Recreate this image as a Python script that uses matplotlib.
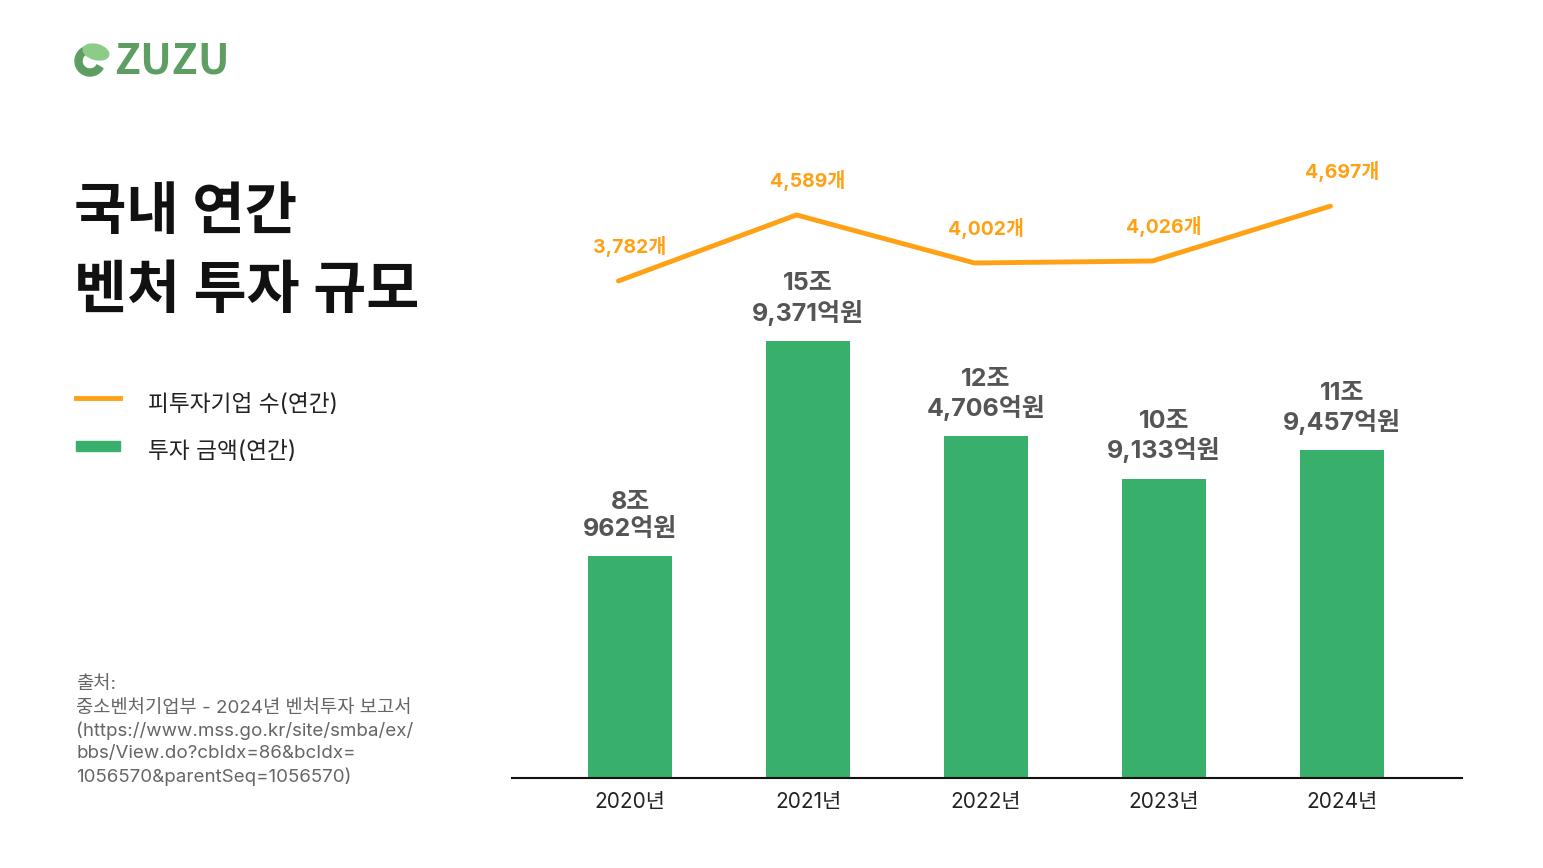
import matplotlib.pyplot as plt
from matplotlib.patches import Circle, Ellipse, Rectangle, Wedge
from matplotlib.lines import Line2D

FONTS = ['Inter', 'Noto Sans CJK KR', 'DejaVu Sans']
plt.rcParams['font.family'] = FONTS

# data
years = ['2020년', '2021년', '2022년', '2023년', '2024년']
invest = [80962, 159371, 124706, 109133, 119457]  # 억원
invest_labels = ['8조\n962억원', '15조\n9,371억원', '12조\n4,706억원', '10조\n9,133억원', '11조\n9,457억원']
companies = [3782, 4589, 4002, 4026, 4697]
company_labels = ['3,782개', '4,589개', '4,002개', '4,026개', '4,697개']
source_lines = ['출처:', '중소벤처기업부 - 2024년 벤처투자 보고서',
                '(https://www.mss.go.kr/site/smba/ex/',
                'bbs/View.do?cbIdx=86&bcIdx=',
                '1056570&parentSeq=1056570)']

GREEN = '#38B06B'
ORANGE = '#FFA114'
W, H = 1543, 868


def px(x, y):
    return x / W, 1 - y / H


fig = plt.figure(figsize=(W / 100, H / 100), dpi=100)

ax = fig.add_axes([512 / W, (H - 778) / H, (1462 - 512) / W, (778 - 150) / H])
xs = list(range(len(years)))
ax.bar(xs, invest, width=0.47, color=GREEN, zorder=2)
ax.set_xlim(-0.663, 4.674)
ax.set_ylim(0, 229000)
for s in ['top', 'right', 'left']:
    ax.spines[s].set_visible(False)
ax.spines['bottom'].set_linewidth(1.5)
ax.spines['bottom'].set_color('#111111')
ax.set_yticks([])
ax.set_xticks(xs)
ax.set_xticklabels(years, fontsize=15, color='#222222')
ax.tick_params(axis='x', length=0, pad=10)

for x, v, lab in zip(xs, invest, invest_labels):
    ax.annotate(lab, (x, v), xytext=(0, 11), textcoords='offset points',
                ha='center', va='bottom', fontsize=18, fontweight='bold',
                color='#555555', linespacing=1.2)

ax2 = ax.twinx()
ax2.set_ylim(-2294, 5383)
ax2.axis('off')
shift = -0.065
ax2.plot([x + shift for x in xs], companies, color=ORANGE, lw=3.5,
         solid_capstyle='round', solid_joinstyle='miter', zorder=3)
for x, v, lab in zip(xs, companies, company_labels):
    ax2.annotate(lab, (x, v), xytext=(0, 25), textcoords='offset points',
                 ha='center', va='center', fontsize=14, fontweight='bold',
                 color=ORANGE)

# title
fig.text(*px(74, 214), '국내 연간', fontsize=41, fontweight='bold',
         ha='left', va='center', color='#111111')
fig.text(*px(74, 293), '벤처 투자 규모', fontsize=41.5, fontweight='bold',
         ha='left', va='center', color='#111111')

# legend
fig.add_artist(Line2D([76 / W, 120 / W], [1 - 398 / H, 1 - 398 / H],
                      color=ORANGE, lw=3.5, transform=fig.transFigure))
fig.add_artist(Rectangle(px(76, 451), 44 / W, 10 / H, color=GREEN,
                         transform=fig.transFigure))
fig.text(*px(148, 405), '피투자기업 수(연간)', fontsize=16.3,
         ha='left', va='center', color='#222222')
fig.text(*px(148, 452), '투자 금액(연간)', fontsize=16.3,
         ha='left', va='center', color='#222222')

# source
for i, line in enumerate(source_lines):
    fig.text(*px(76, 685 + 23 * i), line, fontsize=13.5,
             ha='left', va='center', color='#666666')

# logo
lax = fig.add_axes([70 / W, (H - 82) / H, 50 / W, 44 / H])
lax.set_xlim(70, 120)
lax.set_ylim(82, 38)
lax.set_aspect('equal')
lax.axis('off')
lax.add_patch(Wedge((90, 61), 15, 30, 330, width=7, color='#5E9E63'))
lax.add_patch(Circle((90, 61), 15, fill=False, lw=0))
lax.add_patch(Ellipse((96, 52), 26, 15, angle=15, color='#8CCB88'))
fig.text(*px(114, 61), 'ZUZU', fontsize=30.5, fontweight='heavy',
         ha='left', va='center', color='#5E9E63',
         family=['Noto Sans CJK KR', 'DejaVu Sans'])

fig.savefig('out.png', dpi=100)
